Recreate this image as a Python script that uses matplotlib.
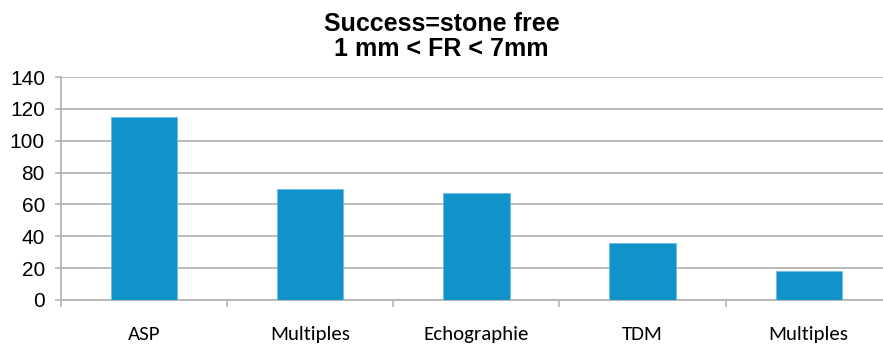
import numpy as np
import matplotlib.pyplot as plt

# ------------ Data ---------------
categories = ['ASP', 'Multiples', 'Echographie', 'TDM', 'Multiples']
values = [115, 70, 67, 36, 18]
yticks = [0, 20, 40, 60, 80, 100, 120, 140]

# ------------ Plot ---------------
fig = plt.figure(figsize=(8.83, 3.44), dpi=100)
ax = fig.add_axes([0.069, 0.128, 0.941, 0.648])

x = np.arange(len(categories))
ax.bar(x, values, width=0.4, color='#1192C9', edgecolor='#6BBBE0', linewidth=0.6, zorder=3)

ax.set_xlim(-0.5, len(categories) - 0.5)
ax.set_ylim(0, 140)
ax.set_yticks(yticks)
ax.yaxis.grid(True, color='#B4B4B4', linewidth=1.3, zorder=0)

ax.set_xticks(x)
ax.set_xticklabels(categories, family='Carlito', fontsize=15)
ax.set_xticks(np.arange(-0.5, len(categories)), minor=True)
ax.tick_params(axis='x', which='major', length=0, pad=19)
ax.tick_params(axis='x', which='minor', length=5, color='#B4B4B4', width=1.2)
ax.tick_params(axis='y', length=4.5, color='#B4B4B4', width=1.2, pad=7)
for lbl in ax.get_yticklabels():
    lbl.set_family('Liberation Sans')
    lbl.set_fontsize(15)

for side in ['top', 'right']:
    ax.spines[side].set_visible(False)
for side in ['left', 'bottom']:
    ax.spines[side].set_color('#B4B4B4')
    ax.spines[side].set_linewidth(1.3)

fig.text(0.5, 0.930, 'Success=stone free', ha='center', va='center',
         family='Liberation Sans', fontweight='bold', fontsize=18)
fig.text(0.5, 0.859, '1 mm < FR < 7mm', ha='center', va='center',
         family='Liberation Sans', fontweight='bold', fontsize=18)

fig.savefig('out.png', dpi=100)
